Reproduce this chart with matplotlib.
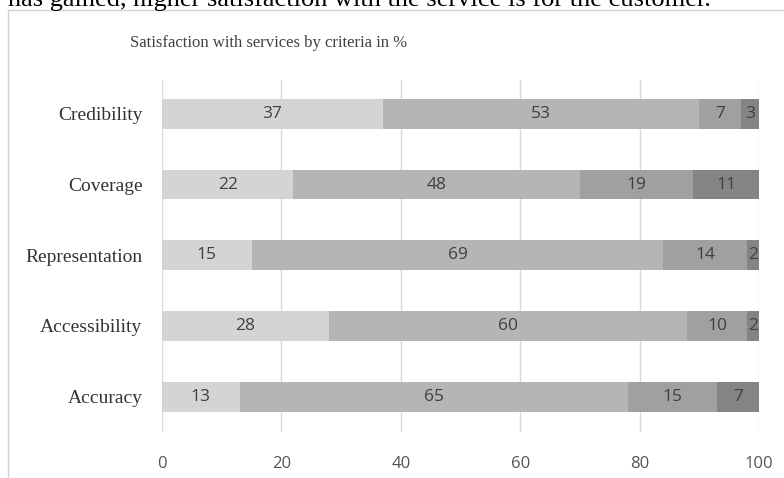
import matplotlib.pyplot as plt
from matplotlib.patches import Rectangle

# criteria, bottom to top
criteria = ['Accuracy', 'Accessibility', 'Representation', 'Coverage', 'Credibility']

# stacked shares in % per criterion (same order as criteria)
s1 = [13, 28, 15, 22, 37]
s2 = [65, 60, 69, 48, 53]
s3 = [15, 10, 14, 19, 7]
s4 = [7, 2, 2, 11, 3]

series = [s1, s2, s3, s4]
colors = ['#d4d4d4', '#b5b5b5', '#a0a0a0', '#848484']

fig = plt.figure(figsize=(7.84, 4.78), dpi=100)
ax = fig.add_axes([0.2066, 0.0962, 0.7615, 0.7364])

ypos = list(range(len(criteria)))
left = [0] * len(criteria)
for vals, c in zip(series, colors):
    bars = ax.barh(ypos, vals, left=left, height=0.42, color=c, zorder=2)
    for b, v in zip(bars, vals):
        x = b.get_x() + b.get_width() / 2
        ax.text(x, b.get_y() + b.get_height() / 2, str(v), ha='center', va='center',
                fontsize=12.5, color='#404040', family='Open Sans', zorder=3)
    left = [l + v for l, v in zip(left, vals)]

ax.set_xlim(0, 100)
ax.set_ylim(-0.5, 4.48)
ax.set_xticks([0, 20, 40, 60, 80, 100])
ax.set_yticks(ypos)
ax.set_yticklabels(criteria, family='Liberation Serif', fontsize=14, color='#333333')
for lbl in ax.get_xticklabels():
    lbl.set_family('Open Sans')
    lbl.set_fontsize(12)
    lbl.set_color('#555555')
ax.tick_params(axis='both', length=0)
ax.tick_params(axis='y', pad=14)
ax.tick_params(axis='x', pad=17)
ax.grid(axis='x', color='#d9d9d9', linewidth=1, zorder=0)
for sp in ax.spines.values():
    sp.set_visible(False)

fig.text(0.5 * (147 + 390) / 784, 1 - 43 / 478, 'Satisfaction with services by criteria in %',
         ha='center', va='center', family='Liberation Serif', fontsize=12, color='#404040')

# text line of the document above the chart, cut at the top as in the source
fig.text(0.01, 1.0, 'has gained, higher satisfaction with the service is for the customer.',
         ha='left', va='center', family='Liberation Serif', fontsize=19, color='black')

# chart frame
fig.patches.append(Rectangle((8 / 784, -0.01), 1.0, 1 - 10 / 478 + 0.01,
                             transform=fig.transFigure, fill=False,
                             edgecolor='#d0d0d0', linewidth=1))

fig.savefig('out.png', dpi=100)
